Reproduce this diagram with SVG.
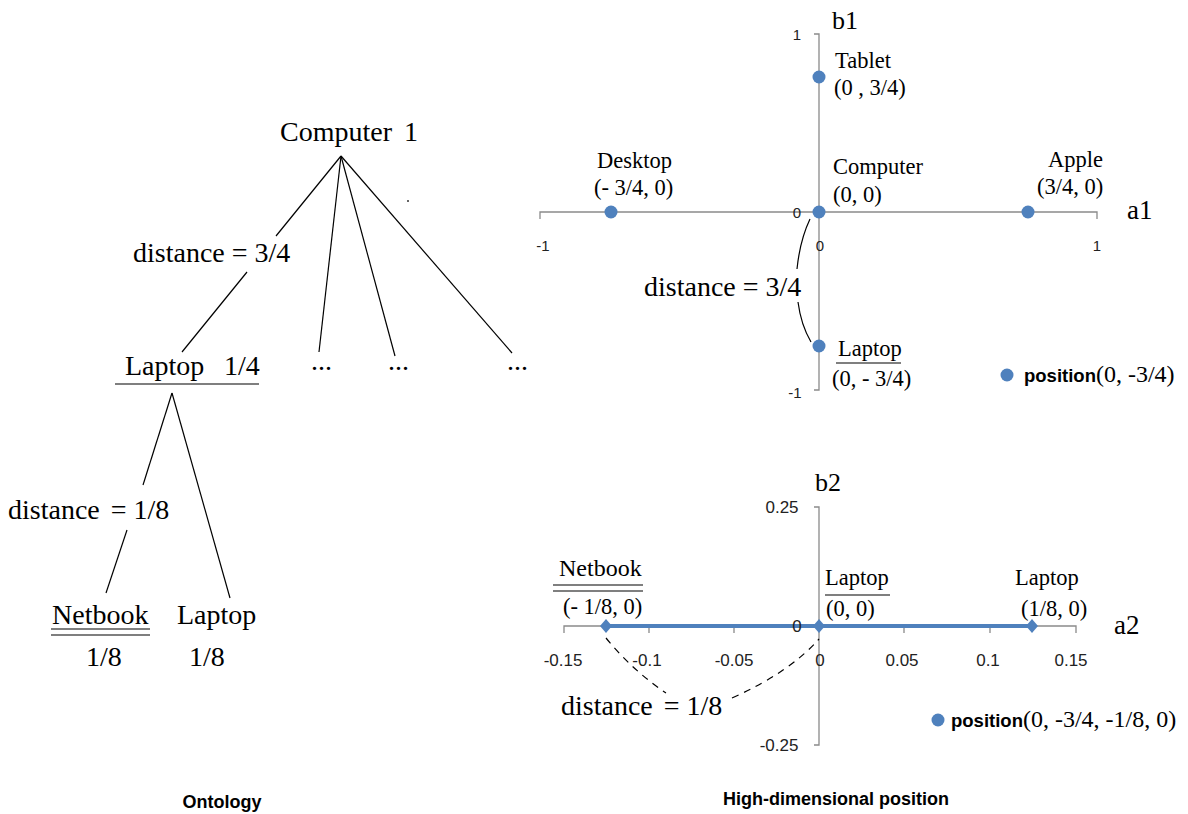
<svg xmlns="http://www.w3.org/2000/svg" width="1188" height="814" viewBox="0 0 1188 814">
<style>
.s{font-family:"Liberation Serif","Times New Roman",serif;fill:#000}
.big{font-size:28px}
.lab{font-size:22.5px}
.t{font-family:"Liberation Sans",Arial,sans-serif;fill:#222}
.c{font-family:"Liberation Sans",Arial,sans-serif;font-weight:bold;fill:#000}
.ln{stroke:#000;stroke-width:1.2;fill:none}
.ax{stroke:#8a8a8a;stroke-width:1.3;fill:none}
.pt{fill:#4f81bd}
.dash{stroke:#000;stroke-width:1.2;fill:none;stroke-dasharray:7 6}
</style>
<rect width="1188" height="814" fill="#fff"/>

<g id="connectors">
  <line class="ln" x1="341" y1="156" x2="276" y2="236"/>
  <line class="ln" x1="247" y1="272" x2="182" y2="352"/>
  <line class="ln" x1="341" y1="156" x2="319" y2="352"/>
  <line class="ln" x1="341" y1="156" x2="395" y2="356"/>
  <line class="ln" x1="341" y1="156" x2="512" y2="353"/>
  <line class="ln" x1="172" y1="393" x2="143" y2="485"/>
  <line class="ln" x1="127" y1="530" x2="106" y2="593"/>
  <line class="ln" x1="172" y1="393" x2="230" y2="598"/>
</g>

<g id="tree">
  <g id="n-computer"><text class="s big" x="280" y="141">Computer</text><text class="s big" x="404" y="141">1</text></g>
  <text class="s big" x="133" y="262">distance = 3/4</text>
  <g id="n-laptop"><text class="s big" x="125" y="375">Laptop</text><text class="s big" x="224" y="375">1/4</text>
    <line class="ln" x1="115" y1="384" x2="259" y2="384"/></g>
  <g id="n-dots"><text class="s big" x="311" y="370">...</text><text class="s big" x="388" y="370">...</text><text class="s big" x="507" y="370">...</text></g>
  <text class="s big" x="8" y="519">distance <tspan dx="4">= 1/8</tspan></text>
  <g id="n-netbook"><text class="s big" x="52" y="624">Netbook</text>
    <line class="ln" x1="51" y1="629" x2="150" y2="629"/><line class="ln" x1="51" y1="635" x2="150" y2="635"/>
    <text class="s big" x="86" y="666">1/8</text></g>
  <g id="n-laptop2"><text class="s big" x="177" y="624">Laptop</text><text class="s big" x="189" y="666">1/8</text></g>
  <circle cx="408" cy="201" r="1" fill="#333"/>
</g>

<g id="chart1">
  <path class="ax" d="M814 34 H819 V390 H814"/>
  <path class="ax" d="M540 219 V212 H1097 V219"/>
  <text class="s" x="832" y="29" font-size="26">b1</text>
  <text class="s" x="1127" y="219" font-size="27">a1</text>
  <g class="t" font-size="15" text-anchor="middle">
    <text x="797" y="40">1</text>
    <text x="795" y="398">-1</text>
    <text x="797" y="218">0</text>
    <text x="820" y="251">0</text>
    <text x="543" y="251">-1</text>
    <text x="1097" y="251">1</text>
  </g>
  <circle class="pt" cx="819" cy="77" r="6.5"/>
  <circle class="pt" cx="611" cy="212" r="6.5"/>
  <circle class="pt" cx="819" cy="212" r="6.5"/>
  <circle class="pt" cx="1028" cy="212" r="6.5"/>
  <circle class="pt" cx="819" cy="346" r="6.5"/>
  <g id="p-tablet"><text class="s lab" x="835" y="68">Tablet</text><text class="s lab" x="834" y="95">(0 , 3/4)</text></g>
  <g id="p-desktop"><text class="s lab" x="597" y="168">Desktop</text><text class="s lab" x="594" y="195">(- 3/4, 0)</text></g>
  <g id="p-computer"><text class="s lab" x="833" y="174">Computer</text><text class="s lab" x="833" y="202">(0, 0)</text></g>
  <g id="p-apple"><text class="s lab" x="1048" y="167">Apple</text><text class="s lab" x="1037" y="194">(3/4, 0)</text></g>
  <g id="p-laptop"><text class="s lab" x="838" y="356">Laptop</text>
    <line class="ln" x1="836" y1="363" x2="901" y2="363"/>
    <text class="s lab" x="832" y="386">(0, - 3/4)</text></g>
  <path class="ln" d="M810 219 Q800 240 797 269"/>
  <path class="ln" d="M798 302 Q801 325 811 342"/>
  <text class="s big" x="644" y="296">distance = 3/4</text>
  <g id="legend1"><circle class="pt" cx="1007" cy="375" r="6.5"/>
    <text x="1024" y="382"><tspan class="c" font-size="18.5">position</tspan><tspan class="s" font-size="24">(0, -3/4)</tspan></text></g>
</g>

<g id="chart2">
  <path class="ax" d="M814 507 H819 V745 H814"/>
  <path class="ax" d="M564 633 V626 H1076 V633 M649 626 V633 M734 626 V633 M904 626 V633 M990 626 V633"/>
  <line x1="606" y1="626" x2="1032" y2="626" stroke="#4f81bd" stroke-width="4"/>
  <path class="pt" d="M606 619 L612 626 L606 633 L600 626 Z"/>
  <path class="pt" d="M819 619 L825 626 L819 633 L813 626 Z"/>
  <path class="pt" d="M1032 619 L1038 626 L1032 633 L1026 626 Z"/>
  <text class="s" x="815" y="491" font-size="26">b2</text>
  <text class="s" x="1114" y="634" font-size="27">a2</text>
  <g class="t" font-size="17" text-anchor="middle">
    <text x="782" y="513">0.25</text>
    <text x="779" y="751">-0.25</text>
    <text x="797" y="632">0</text>
    <text x="563" y="666">-0.15</text>
    <text x="647" y="666">-0.1</text>
    <text x="734" y="666">-0.05</text>
    <text x="820" y="666">0</text>
    <text x="902" y="666">0.05</text>
    <text x="988" y="666">0.1</text>
    <text x="1071" y="666">0.15</text>
  </g>
  <g id="q-netbook"><text class="s" font-size="24" x="559" y="576">Netbook</text>
    <line class="ln" x1="553" y1="585" x2="643" y2="585"/><line class="ln" x1="553" y1="591" x2="643" y2="591"/>
    <text class="s lab" x="563" y="614">(- 1/8, 0)</text></g>
  <g id="q-laptop0"><text class="s lab" x="825" y="585">Laptop</text>
    <line class="ln" x1="825" y1="595" x2="890" y2="595"/>
    <text class="s lab" x="826" y="616">(0, 0)</text></g>
  <g id="q-laptop1"><text class="s lab" x="1015" y="585">Laptop</text><text class="s lab" x="1021" y="616">(1/8, 0)</text></g>
  <path class="dash" d="M606 638 Q632 670 666 693"/>
  <path class="dash" d="M732 698 Q790 672 819 639"/>
  <text class="s big" x="561" y="715">distance <tspan dx="4">= 1/8</tspan></text>
  <g id="legend2"><circle class="pt" cx="938" cy="720" r="6.5"/>
    <text x="951" y="727"><tspan class="c" font-size="18.5">position</tspan><tspan class="s" font-size="24">(0, -3/4, -1/8, 0)</tspan></text></g>
</g>

<g id="captions">
  <text class="c" x="222" y="808" font-size="18" text-anchor="middle">Ontology</text>
  <text class="c" x="836" y="805" font-size="18" text-anchor="middle">High-dimensional position</text>
</g>
</svg>
